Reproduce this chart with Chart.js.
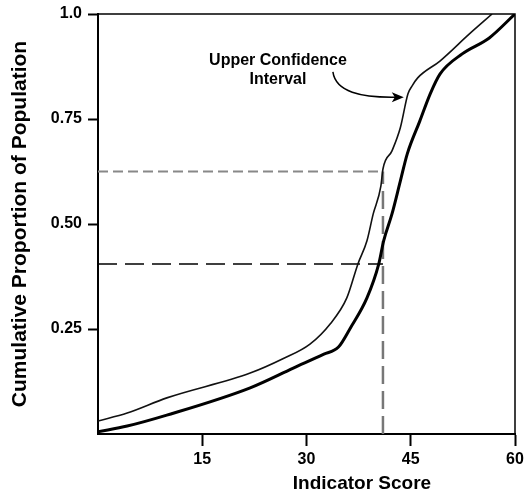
<!DOCTYPE html>
<html>
<head>
<meta charset="utf-8">
<script src="https://cdn.jsdelivr.net/npm/chart.js@4.4.0/dist/chart.umd.min.js"></script>
<style>
html, body { margin: 0; padding: 0; background: #fff; }
#wrap { width: 524px; height: 494px; }
</style>
</head>
<body>
<div id="wrap"><canvas id="chart" width="524" height="494"></canvas></div>
<script>
// values: indicator score vs cumulative proportion
const estScore   = [0, 4.2, 9.9, 21.9, 28.1, 32.5, 34.6, 36.3, 38.7, 40.4, 41.1, 42.3, 43.5, 44.5, 46.3, 47.8, 49.2, 52.4, 56.3, 60];
const estProp    = [0.005, 0.019, 0.045, 0.11, 0.157, 0.19, 0.207, 0.252, 0.324, 0.405, 0.46, 0.524, 0.602, 0.667, 0.745, 0.81, 0.857, 0.905, 0.943, 1.0];
const upperScore = [0, 4.2, 9.9, 21.9, 26.6, 30.5, 33.4, 35.8, 37.4, 38.7, 39.6, 40.7, 41.0, 42.3, 43.5, 44.6, 45.2, 46.0, 49.2, 53.4, 56.7];
const upperProp  = [0.031, 0.05, 0.086, 0.145, 0.179, 0.214, 0.262, 0.324, 0.405, 0.46, 0.524, 0.59, 0.631, 0.674, 0.729, 0.81, 0.829, 0.848, 0.888, 0.952, 1.0];

// dashed read-off lines
const refScore = 41.0;
const refEst = 0.405;
const refUpper = 0.625;

const xTicks = [15, 30, 45, 60];
const yTicks = [0.25, 0.5, 0.75, 1.0];
const yTickLabels = ['0.25', '0.50', '0.75', '1.0'];

const FONT = '"Liberation Sans", Arial, Helvetica, sans-serif';

const pts = (xs, ys) => xs.map((v, i) => ({ x: v, y: ys[i] }));

// frame, axis titles and the "Upper Confidence Interval" callout
const figureText = {
    id: 'figureText',
    afterDraw(chart) {
        const { ctx, chartArea: a, scales: { x, y } } = chart;
        ctx.save();
        ctx.strokeStyle = '#000';
        ctx.lineWidth = 1.5;
        ctx.beginPath();
        ctx.moveTo(a.left, a.top);
        ctx.lineTo(a.right, a.top);
        ctx.lineTo(a.right, a.bottom);
        ctx.stroke();

        ctx.fillStyle = '#000';
        ctx.textAlign = 'center';
        ctx.textBaseline = 'middle';
        ctx.font = 'bold 19px ' + FONT;
        ctx.fillText('Indicator Score', 362, 484);

        ctx.save();
        ctx.translate(20, (a.top + a.bottom) / 2);
        ctx.rotate(-Math.PI / 2);
        ctx.font = 'bold 21px ' + FONT;
        ctx.fillText('Cumulative Proportion of Population', 0, 0);
        ctx.restore();

        ctx.font = 'bold 16px ' + FONT;
        ctx.fillText('Upper Confidence', x.getPixelForValue(25.9), y.getPixelForValue(0.888));
        ctx.fillText('Interval', x.getPixelForValue(25.9), y.getPixelForValue(0.843));

        // arrow
        const sx = x.getPixelForValue(33.8), sy = y.getPixelForValue(0.862);
        const ex = x.getPixelForValue(44.0), ey = y.getPixelForValue(0.802);
        ctx.lineWidth = 1.5;
        ctx.beginPath();
        ctx.moveTo(sx, sy);
        ctx.bezierCurveTo(x.getPixelForValue(34.2), y.getPixelForValue(0.815),
                          x.getPixelForValue(37.7), y.getPixelForValue(0.8), ex - 6, ey);
        ctx.stroke();
        ctx.beginPath();
        ctx.moveTo(ex, ey);
        ctx.lineTo(ex - 12, ey - 5);
        ctx.lineTo(ex - 9, ey);
        ctx.lineTo(ex - 12, ey + 5);
        ctx.closePath();
        ctx.fill();
        ctx.restore();
    }
};

const tickFont = { family: FONT, size: 16, weight: 'bold' };

new Chart(document.getElementById('chart'), {
    type: 'line',
    data: {
        datasets: [
            { data: pts(upperScore, upperProp), borderColor: '#111', borderWidth: 1.6,
              cubicInterpolationMode: 'monotone', pointRadius: 0, order: 1 },
            { data: pts(estScore, estProp), borderColor: '#000', borderWidth: 3,
              cubicInterpolationMode: 'monotone', pointRadius: 0, order: 0 },
            { data: [{ x: 0, y: refUpper }, { x: refScore, y: refUpper }], borderColor: '#888',
              borderWidth: 2, borderDash: [10, 5], pointRadius: 0, order: 3 },
            { data: [{ x: 0, y: refEst }, { x: refScore, y: refEst }], borderColor: '#000',
              borderWidth: 1.5, borderDash: [19, 8], pointRadius: 0, order: 3 },
            { data: [{ x: refScore, y: 0 }, { x: refScore, y: refUpper }], borderColor: '#777',
              borderWidth: 2.5, borderDash: [18, 7], pointRadius: 0, order: 2 }
        ]
    },
    options: {
        responsive: false,
        animation: false,
        layout: { padding: { top: 14, right: 9, left: 0, bottom: 0 } },
        plugins: { legend: { display: false }, tooltip: { enabled: false } },
        scales: {
            x: {
                type: 'linear', min: 0, max: 60,
                afterBuildTicks: s => { s.ticks = xTicks.map(v => ({ value: v })); },
                afterFit: s => { s.height = 60; s.paddingLeft = 0; s.paddingRight = 0; },
                ticks: { color: '#000', font: tickFont, padding: 4, maxRotation: 0, autoSkip: false },
                grid: { drawOnChartArea: false, tickLength: 12, tickWidth: 2, tickColor: '#000' },
                border: { color: '#000', width: 2 }
            },
            y: {
                type: 'linear', min: 0, max: 1,
                afterBuildTicks: s => { s.ticks = yTicks.map(v => ({ value: v })); },
                afterFit: s => { s.width = 98; s.paddingTop = 0; s.paddingBottom = 0; },
                ticks: { color: '#000', font: tickFont, padding: 6, autoSkip: false,
                         callback: v => yTickLabels[yTicks.indexOf(v)] },
                grid: { drawOnChartArea: false, tickLength: 10, tickWidth: 2, tickColor: '#000' },
                border: { color: '#000', width: 2 }
            }
        }
    },
    plugins: [figureText]
});
</script>
</body>
</html>
